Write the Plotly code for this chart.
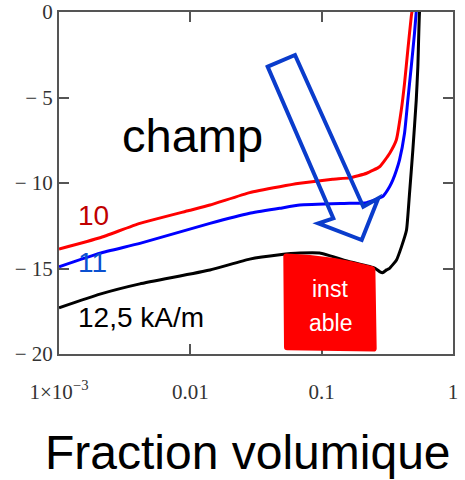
import plotly.graph_objects as go

# ---- data ----
red_x = [0.001, 0.00205, 0.00413, 0.00975, 0.0141, 0.0283, 0.0479, 0.0681, 0.121, 0.163, 0.220, 0.276,
         0.329, 0.370, 0.404, 0.4275, 0.453, 0.481, 0.50]
red_y = [-13.86, -13.2, -12.36, -11.61, -11.29, -10.56, -10.22, -10.02, -9.78, -9.7, -9.43, -9.05,
         -8.27, -7.49, -5.73, -4.17, -2.22, -0.27, 0.6]

blue_x = [0.001, 0.00205, 0.00413, 0.0141, 0.0283, 0.0479, 0.0681, 0.163, 0.220, 0.291, 0.3288,
          0.3485, 0.3715, 0.3917, 0.4275, 0.453, 0.481, 0.509, 0.53]
blue_y = [-14.9, -14.1, -13.53, -12.36, -11.77, -11.48, -11.29, -11.19, -11.15, -10.8, -10.22,
          -9.82, -9.24, -8.65, -7.09, -5.15, -3.2, -1.25, 0.4]

black_x = [0.001, 0.00205, 0.00413, 0.0141, 0.0283, 0.0479, 0.0681, 0.0966, 0.163, 0.2529, 0.2761,
           0.291, 0.312, 0.3288, 0.3715, 0.4055, 0.4427, 0.4667, 0.4946, 0.525, 0.54, 0.556, 0.57]
black_y = [-17.3, -16.5, -15.9, -15.09, -14.45, -14.2, -14.1, -14.1, -14.6, -14.97, -15.18,
           -15.25, -15.08, -14.99, -14.5, -13.72, -12.75, -10.6, -8.07, -5.15, -3.2, 0.0, 0.6]

x_tick_vals = [0.001, 0.01, 0.1, 1]
x_tick_text = ["1×10<sup>−3</sup>", "0.01", "0.1", "1"]
y_tick_vals = [-20, -15, -10, -5, 0]
y_tick_text = ["− 20", "− 15", "− 10", "− 5", "0"]

# ---- layout geometry (pixels) ----
W, H = 465, 480
L, R, T, B = 59, 12, 12, 126
PW, PH = W - L - R, H - T - B


def px(x):
    return (x - L) / PW


def py(y):
    return (H - B - y) / PH


def path(points, close=True):
    s = "M " + " L ".join(f"{px(a):.4f},{py(b):.4f}" for a, b in points)
    return s + (" Z" if close else "")


fig = go.Figure()
for xs, ys, col in [(red_x, red_y, "#ff0000"), (blue_x, blue_y, "#0000ff"), (black_x, black_y, "#000000")]:
    fig.add_trace(go.Scatter(x=xs, y=ys, mode="lines",
                             line=dict(color=col, width=3, shape="spline", smoothing=0.4)))

# red "instable" box (rounded corners, top following the curve)
box = ("M {a} Q {b} {c} Q {d} {e} Q {f} {g} L {h} Q {i} {j} L {k} Q {l} {m} Z").format(
    a=f"{px(283.3):.4f},{py(256.5):.4f}",
    b=f"{px(283.3):.4f},{py(253.3):.4f}", c=f"{px(286.5):.4f},{py(253.4):.4f}",
    d=f"{px(335):.4f},{py(255.5):.4f}", e=f"{px(372):.4f},{py(266):.4f}",
    f=f"{px(375.2):.4f},{py(266.8):.4f}", g=f"{px(375.4):.4f},{py(270):.4f}",
    h=f"{px(376.7):.4f},{py(348.5):.4f}",
    i=f"{px(376.7):.4f},{py(351.7):.4f}", j=f"{px(373.5):.4f},{py(351.6):.4f}",
    k=f"{px(287.2):.4f},{py(350.2):.4f}",
    l=f"{px(284):.4f},{py(350.2):.4f}", m=f"{px(284):.4f},{py(347):.4f}",
)

shapes = [
    dict(type="path", xref="paper", yref="paper", path=box,
         fillcolor="#ff0000", line=dict(width=0), layer="above"),
    dict(type="path", xref="paper", yref="paper",
         path=path([(267.7, 66.7), (295, 55), (363.3, 206.7), (378.3, 198.3),
                    (361.7, 240), (318.3, 223.3), (333.3, 218.3)]),
         line=dict(color="#0a3ccc", width=4), fillcolor="rgba(0,0,0,0)", layer="above"),
]

sans = "Liberation Sans, Arial, sans-serif"
ann = [
    dict(text="champ", x=px(192), y=py(135), font=dict(size=47, color="#000", family=sans),
         xanchor="center", yanchor="middle"),
    dict(text="10", x=px(76), y=py(215), font=dict(size=28, color="#c00000", family=sans),
         xanchor="left", yanchor="middle"),
    dict(text="11", x=px(76), y=py(262), font=dict(size=28, color="#0a50d0", family=sans),
         xanchor="left", yanchor="middle"),
    dict(text="12,5 kA/m", x=px(76), y=py(317), font=dict(size=28, color="#000", family=sans),
         xanchor="left", yanchor="middle"),
    dict(text="inst", x=px(330), y=py(289), font=dict(size=23, color="#fff", family=sans),
         xanchor="center", yanchor="middle"),
    dict(text="able", x=px(330), y=py(323), font=dict(size=23, color="#fff", family=sans),
         xanchor="center", yanchor="middle"),
    dict(text="Fraction volumique", x=px(248), y=py(452), font=dict(size=48, color="#000", family=sans),
         xanchor="center", yanchor="middle"),
]
for a in ann:
    a.update(xref="paper", yref="paper", showarrow=False)

tickfont = dict(family="Liberation Serif, serif", size=21, color="#333")
fig.update_layout(
    width=W, height=H, margin=dict(l=L, r=R, t=T, b=B, pad=0, autoexpand=False),
    paper_bgcolor="white", plot_bgcolor="rgba(0,0,0,0)",
    showlegend=False, shapes=shapes, annotations=ann,
    xaxis=dict(type="log", range=[-3, 0], tickvals=x_tick_vals, ticktext=x_tick_text,
               ticks="inside", ticklen=10, tickwidth=2, tickcolor="#555", automargin=False,
               showline=True, linecolor="#555", linewidth=2, mirror="ticks",
               showgrid=False, zeroline=False, tickfont=tickfont, ticklabelstandoff=18),
    yaxis=dict(range=[-20, 0], tickvals=y_tick_vals, ticktext=y_tick_text,
               ticks="inside", ticklen=10, tickwidth=2, tickcolor="#555", automargin=False,
               showline=True, linecolor="#555", linewidth=2, mirror="ticks",
               showgrid=False, zeroline=False, tickfont=tickfont, ticklabelstandoff=0),
)

fig.write_html("out.html", config={"displayModeBar": False},
               post_script="document.body.style.margin='0';")
